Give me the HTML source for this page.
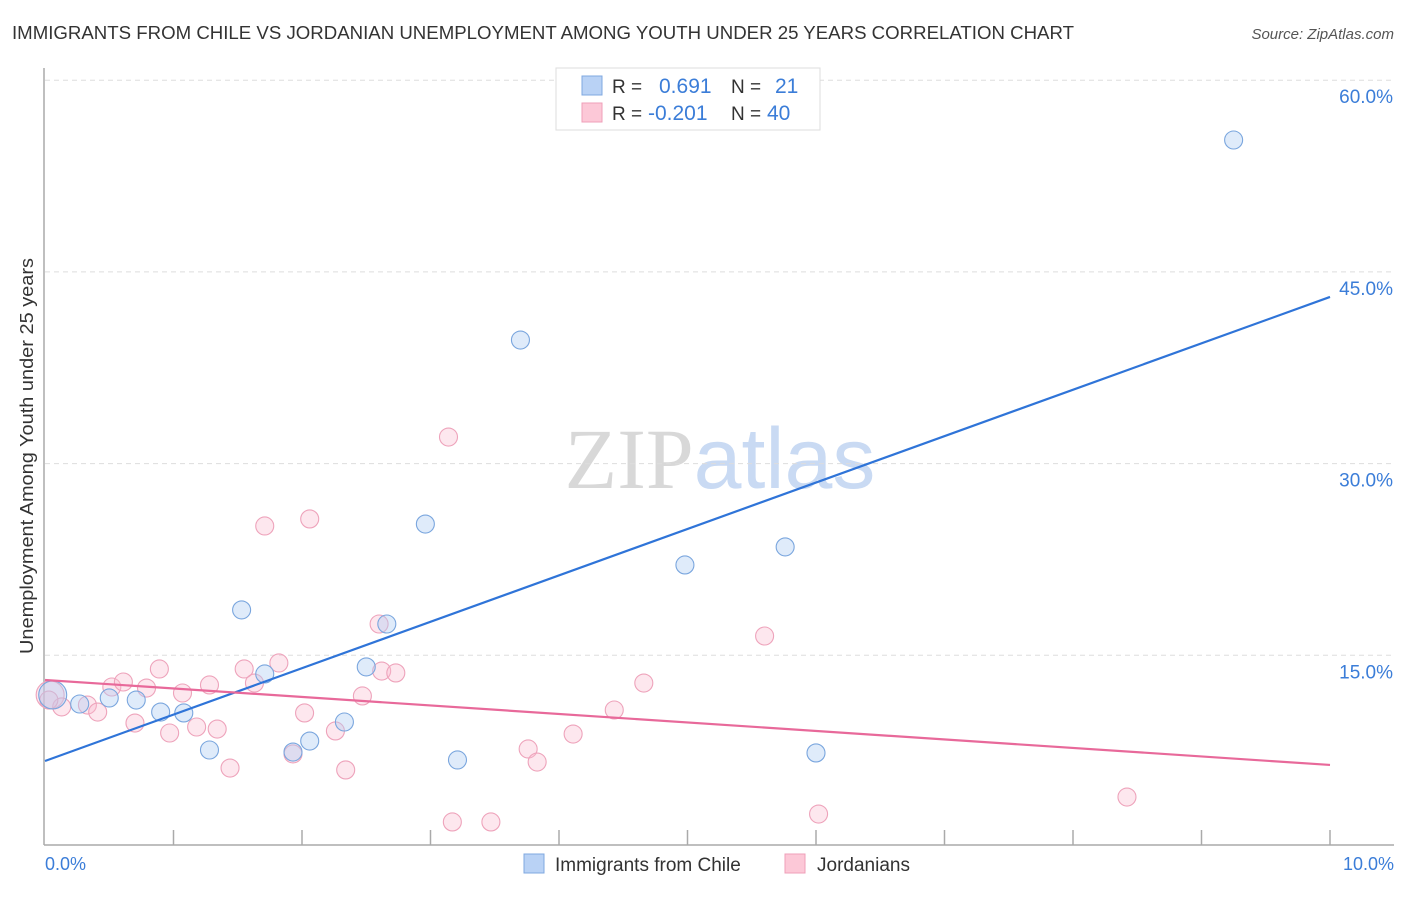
<!DOCTYPE html>
<html><head><meta charset="utf-8"><style>
body{margin:0;background:#fff;font-family:"Liberation Sans",sans-serif;}
svg text{font-family:"Liberation Sans",sans-serif;}
</style></head><body>
<svg id="chart" width="1406" height="892" xmlns="http://www.w3.org/2000/svg">
<text x="12" y="39" font-size="18" fill="#333" textLength="1062" lengthAdjust="spacingAndGlyphs">IMMIGRANTS FROM CHILE VS JORDANIAN UNEMPLOYMENT AMONG YOUTH UNDER 25 YEARS CORRELATION CHART</text>
<text x="1394" y="39" font-size="15" fill="#555" text-anchor="end" font-style="italic">Source: ZipAtlas.com</text>
<text x="720" y="488" font-size="86" text-anchor="middle"><tspan fill="#d8d8d8" font-family="Liberation Serif">ZIP</tspan><tspan fill="#c9daf3">atlas</tspan></text>
<g id="grid"></g>
<line x1="44" y1="68" x2="44" y2="845" stroke="#aaa" stroke-width="1.5"/>
<line x1="44" y1="845" x2="1394" y2="845" stroke="#aaa" stroke-width="1.5"/>
<g id="ticks"></g>
<text transform="translate(33,456) rotate(-90)" font-size="18" fill="#333" text-anchor="middle" textLength="396" lengthAdjust="spacingAndGlyphs">Unemployment Among Youth under 25 years</text>
<text x="45" y="870" font-size="18" fill="#3b7dd8">0.0%</text>
<text x="1394" y="870" font-size="18" fill="#3b7dd8" text-anchor="end">10.0%</text>
<g id="points"></g>
<g id="lines"></g>
<g>
<rect x="556" y="68" width="264" height="62" fill="#fff" stroke="#ddd"/>
<rect x="582" y="76" width="20" height="19" fill="#b9d2f5" stroke="#7fa8e0"/>
<rect x="582" y="103" width="20" height="19" fill="#fcc8d7" stroke="#ef9fb8"/>
<text x="612" y="93" font-size="19" fill="#333">R =</text>
<text x="659" y="93" font-size="21" fill="#3b7dd8">0.691</text>
<text x="731" y="93" font-size="19" fill="#333">N =</text>
<text x="775" y="93" font-size="21" fill="#3b7dd8">21</text>
<text x="612" y="120" font-size="19" fill="#333">R =</text>
<text x="648" y="120" font-size="21" fill="#3b7dd8">-0.201</text>
<text x="731" y="120" font-size="19" fill="#333">N =</text>
<text x="767" y="120" font-size="21" fill="#3b7dd8">40</text>
</g>
<g>
<rect x="524" y="854" width="20" height="19" fill="#b9d2f5" stroke="#7fa8e0"/>
<text x="555" y="871" font-size="19" fill="#333">Immigrants from Chile</text>
<rect x="785" y="854" width="20" height="19" fill="#fcc8d7" stroke="#ef9fb8"/>
<text x="817" y="871" font-size="19" fill="#333">Jordanians</text>
</g>
</svg>
<script>
const yTicks=[15,30,45,60];
const yTickLabels=["15.0%","30.0%","45.0%","60.0%"];
const blueX=[0.06,0.27,0.50,0.71,0.90,1.08,1.28,1.53,1.71,1.93,2.06,2.33,2.50,2.66,2.96,3.21,3.70,4.98,5.76,6.00,9.25];
const blueY=[11.9,11.19,11.66,11.50,10.56,10.49,7.59,18.55,13.54,7.43,8.29,9.78,14.09,17.45,25.27,6.81,39.67,22.07,23.48,7.36,55.32];
const pinkX=[0.04,0.13,0.33,0.41,0.52,0.61,0.70,0.79,0.89,0.97,1.07,1.18,1.28,1.34,1.44,1.55,1.63,1.71,1.82,1.93,2.02,2.06,2.26,2.34,2.47,2.60,2.62,2.73,3.14,3.17,3.47,3.76,3.83,4.11,4.43,4.66,5.60,6.02,8.42,0.03];
const pinkY=[11.9,10.96,11.11,10.56,12.52,12.91,9.70,12.44,13.93,8.92,12.05,9.39,12.68,9.23,6.18,13.93,12.83,25.12,14.40,7.28,10.49,25.67,9.08,6.03,11.82,17.45,13.77,13.62,32.08,1.96,1.96,7.67,6.65,8.84,10.72,12.83,16.51,2.58,3.91,11.5];
const blueTrend=[6.73,43.04];
const pinkTrend=[13.07,6.42];
const NS="http://www.w3.org/2000/svg";
const xs=v=>45+v*128.5;
const ys=v=>847-v*191.7/15;
function mk(tag,attrs,parent){const e=document.createElementNS(NS,tag);for(const k in attrs)e.setAttribute(k,attrs[k]);document.getElementById(parent).appendChild(e);return e;}
yTicks.forEach((t,i)=>{
 const l=mk('line',{x1:45,x2:1394,y1:ys(t),y2:ys(t),stroke:'#ddd','stroke-dasharray':'5,4'},'grid');
 
 
 const tx=mk('text',{x:1393,y:ys(t)+23,'font-size':19,fill:'#3b7dd8','text-anchor':'end'},'grid');
 tx.textContent=yTickLabels[i];
 
 
});
for(let k=1;k<=10;k++){
 const l=mk('line',{x1:xs(k),x2:xs(k),y1:830,y2:845,stroke:'#aaa','stroke-width':1.5},'ticks');
 
 
}
function dots(X,Y,fill,stroke,name){
 X.forEach((x,i)=>{
  const r=(x<0.08&&Y[i]>11.8)?14:9;
  const c=mk('circle',{cx:xs(x),cy:ys(Y[i]),r:r,fill:fill,stroke:stroke,'stroke-width':1.1},'points');
  
  
 });
}
dots(pinkX,pinkY,'rgba(250,185,205,0.35)','#eea3bb','jordanians-point');
dots(blueX,blueY,'rgba(175,205,242,0.4)','#7aa6de','chile-point');
const bl=mk('line',{x1:xs(0),y1:ys(blueTrend[0]),x2:xs(10),y2:ys(blueTrend[1]),stroke:'#2f74d8','stroke-width':2.2},'lines');


const pl=mk('line',{x1:xs(0),y1:ys(pinkTrend[0]),x2:xs(10),y2:ys(pinkTrend[1]),stroke:'#e8699a','stroke-width':2.2},'lines');


</script>
</body></html>
